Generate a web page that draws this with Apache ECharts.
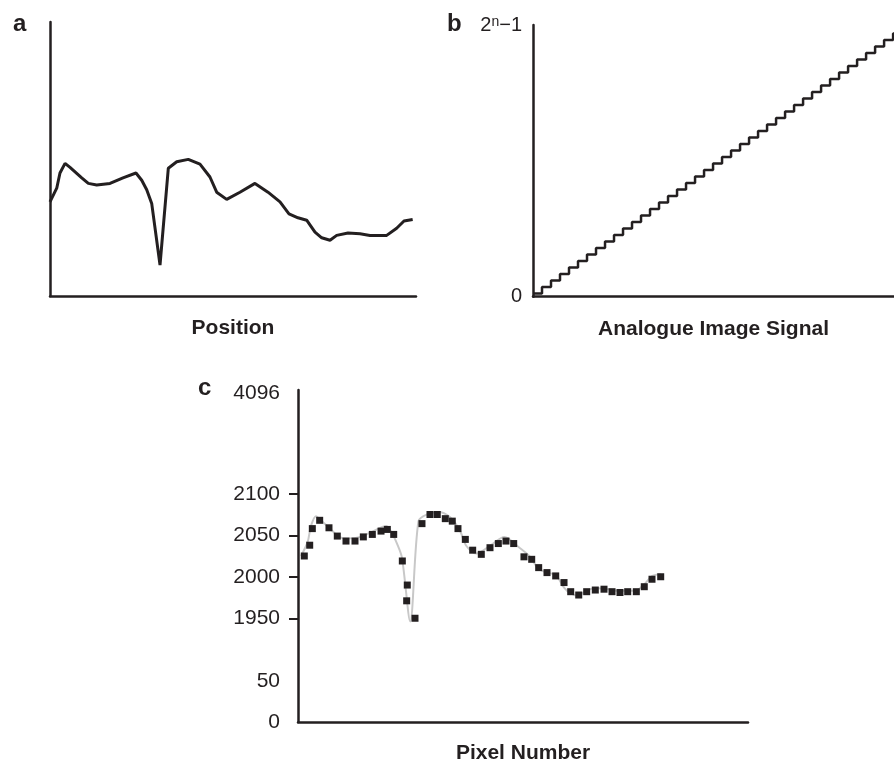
<!DOCTYPE html>
<html><head><meta charset="utf-8">
<script src="https://cdn.jsdelivr.net/npm/echarts@6/dist/echarts.min.js"></script>
<style>html,body{margin:0;padding:0;background:#fff}#c{width:894px;height:765px}</style>
</head><body><div id="c"></div>
<script>
// Analogue signal (panel a, and grey curve in panel c)
const analogPos = [0.4, 1.29, 1.72, 2.39, 3.05, 4.6, 5.47, 6.58, 8.34, 10.06, 11.78, 12.54, 13.2, 13.86, 14.96, 16.06, 17.17, 18.7, 20.25, 21.57, 22.46, 23.78, 25.54, 27.53, 29.25, 30.84, 32.03, 33.22, 34.37, 35.47, 36.36, 37.46, 38.34, 39.84, 41.43, 42.75, 44.96, 46.28, 47.25, 48.4];
const analogSig = [2025, 2042, 2061, 2073, 2068, 2055, 2048, 2046, 2048, 2055, 2061, 2052, 2040, 2023, 1946, 2067, 2075, 2078, 2072, 2056, 2037, 2028, 2037, 2048, 2037, 2025, 2010, 2005, 2002, 1987, 1980, 1977, 1983, 1986, 1985, 1983, 1983, 1992, 2001, 2003];

// Quantiser staircase (panel b)
const stairX = [0,1,2,3,4,5,6,7,8,9,10,11,12,13,14,15,16,17,18,19,20,21,22,23,24,25,26,27,28,29,30,31,32,33,34,35,36,37,38,39,40,40.1];
const stairLevel = [0,1,2,3,4,5,6,7,8,9,10,11,12,13,14,15,16,17,18,19,20,21,22,23,24,25,26,27,28,29,30,31,32,33,34,35,36,37,38,39,40,40];

// Digitised samples (panel c)
const pixelNum = [0.84, 1.56, 1.91, 2.89, 4.13, 5.24, 6.4, 7.6, 8.71, 9.91, 11.07, 11.91, 12.76, 13.91, 14.57, 14.49, 15.6, 16.53, 17.6, 18.57, 19.64, 20.57, 21.33, 22.31, 23.29, 24.44, 25.6, 26.71, 27.73, 28.76, 30.13, 31.16, 32.09, 33.2, 34.36, 35.47, 36.36, 37.43, 38.49, 39.64, 40.8, 41.87, 42.93, 43.96, 45.11, 46.17, 47.2, 48.36];
const pixelVal = [2025, 2038, 2058, 2068, 2059, 2049, 2043, 2043, 2048, 2051, 2055, 2057, 2051, 2019, 1990, 1971, 1950, 2064, 2075, 2075, 2070, 2067, 2058, 2045, 2032, 2027, 2035, 2040, 2043, 2040, 2024, 2021, 2011, 2005, 2001, 1993, 1982, 1978, 1982, 1984, 1985, 1982, 1981, 1982, 1982, 1988, 1997, 2000];

// Axis labels
const cTickVals = [1950, 2000, 2050, 2100];
const cLabelVals = [1825, 1874, 1950, 2000, 2050, 2100, 2221];
const cLabelText = ['0', '50', '1950', '2000', '2050', '2100', '4096'];
const bLabelVals = [-0.5, 41.3];
const bLabelText = ['0', '{n|2}{sup|n}{n|\u22121}'];

const INK = '#231f20';
const FONT = "'Liberation Sans', Arial, Helvetica, sans-serif";

const analog = analogPos.map((p, i) => [p, analogSig[i]]);
const stairs = stairX.map((x, i) => [x, stairLevel[i]]);
const samples = pixelNum.map((x, i) => [x, pixelVal[i]]);

const axLine = { show: true, onZero: false, lineStyle: { color: INK, width: 2.5 } };
const nameStyle = { fontFamily: FONT, fontWeight: 'bold', fontSize: 21, color: INK };

const chart = echarts.init(document.getElementById('c'), null, { renderer: 'canvas' });
chart.setOption({
  animation: false,
  backgroundColor: '#fff',
  textStyle: { fontFamily: FONT },
  graphic: [
    { type: 'text', left: 13, top: 12, style: { text: 'a', font: "bold 24px 'Liberation Sans', Arial, sans-serif", fill: INK } },
    { type: 'text', left: 447, top: 12, style: { text: 'b', font: "bold 24px 'Liberation Sans', Arial, sans-serif", fill: INK } },
    { type: 'text', left: 198, top: 376, style: { text: 'c', font: "bold 24px 'Liberation Sans', Arial, sans-serif", fill: INK } }
  ],
  grid: [
    { left: 50, top: 22, width: 366, height: 274 },
    { left: 533, top: 25, width: 361, height: 271.7 },
    { left: 298, top: 390, width: 450, height: 333.3 }
  ],
  xAxis: [
    { gridIndex: 0, type: 'value', min: 0.4, max: 48.84, axisLine: axLine, axisTick: { show: false }, axisLabel: { show: false }, splitLine: { show: false },
      name: 'Position', nameLocation: 'middle', nameGap: 22, nameTextStyle: nameStyle },
    { gridIndex: 1, type: 'value', min: 0, max: 40.1, axisLine: axLine, axisTick: { show: false }, axisLabel: { show: false }, splitLine: { show: false },
      name: 'Analogue Image Signal', nameLocation: 'middle', nameGap: 22, nameTextStyle: nameStyle },
    { gridIndex: 2, type: 'value', min: 0, max: 60, axisLine: axLine, axisTick: { show: false }, axisLabel: { show: false }, splitLine: { show: false },
      name: 'Pixel Number', nameLocation: 'middle', nameGap: 21, nameTextStyle: nameStyle }
  ],
  yAxis: [
    { gridIndex: 0, type: 'value', min: 1907.25, max: 2249.75, axisLine: axLine, axisTick: { show: false }, axisLabel: { show: false }, splitLine: { show: false } },
    { gridIndex: 1, type: 'value', min: -0.5, max: 41.3, axisLine: axLine, axisTick: { show: false }, splitLine: { show: false },
      axisLabel: { show: true, customValues: bLabelVals, margin: 11, fontSize: 20, color: INK, fontFamily: FONT,
        formatter: v => bLabelText[bLabelVals.indexOf(v)] || '',
        rich: { n: { fontSize: 20, color: INK, fontFamily: FONT }, sup: { fontSize: 14, color: INK, fontFamily: FONT, verticalAlign: 'top' } } } },
    { gridIndex: 2, type: 'value', min: 1825, max: 2225, axisLine: axLine, splitLine: { show: false },
      axisTick: { show: true, customValues: cTickVals, length: 9, lineStyle: { color: INK, width: 2 } },
      axisLabel: { show: true, customValues: cLabelVals, margin: 18, fontSize: 21, color: INK, fontFamily: FONT,
        formatter: v => cLabelText[cLabelVals.indexOf(v)] } }
  ],
  series: [
    { type: 'line', xAxisIndex: 0, yAxisIndex: 0, data: analog, showSymbol: false, lineStyle: { color: INK, width: 3 } },
    { type: 'line', xAxisIndex: 1, yAxisIndex: 1, data: stairs, step: 'end', showSymbol: false, lineStyle: { color: INK, width: 2.5 } },
    { type: 'line', xAxisIndex: 2, yAxisIndex: 2, data: analog, showSymbol: false, smooth: 0.3, lineStyle: { color: '#c8c8c8', width: 2 }, z: 1 },
    { type: 'scatter', xAxisIndex: 2, yAxisIndex: 2, data: samples, symbol: 'rect', symbolSize: 7, itemStyle: { color: INK, opacity: 1 }, z: 3 }
  ]
});
</script></body></html>
